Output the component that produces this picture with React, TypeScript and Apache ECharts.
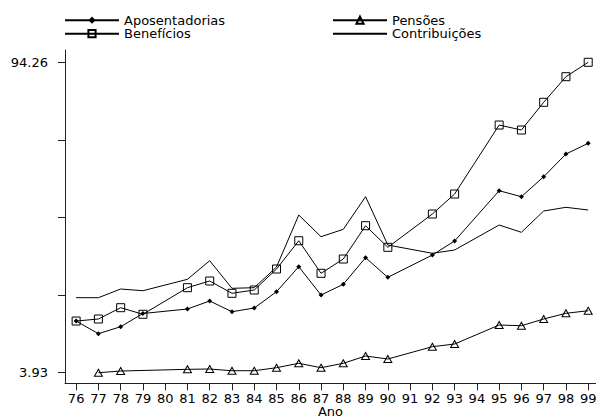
import React, { useEffect, useRef } from "react";
import * as echarts from "echarts";

const years = [76, 77, 78, 79, 80, 81, 82, 83, 84, 85, 86, 87, 88, 89, 90, 91, 92, 93, 94, 95, 96, 97, 98, 99];

const aposentadorias = [18.97, 15.28, 17.32, 21.16, null, 22.47, 24.8, 21.68, 22.76, 27.5, 34.78, 26.54, 29.66, 37.4, 31.69, null, 38.18, 42.26, null, 56.89, 55.15, 60.97, 67.57, 70.69];
const pensoes = [null, 3.93, 4.42, null, null, 4.92, 5.01, 4.51, 4.51, 5.39, 6.67, 5.39, 6.67, 8.79, 7.92, null, 11.5, 12.28, null, 17.81, 17.61, 19.56, 21.22, 21.97];
const beneficios = [18.97, 19.56, 22.85, 20.93, null, 28.67, 30.62, 27.04, 28.0, 34.11, 42.34, 32.86, 37.02, 46.71, 40.42, null, 50.11, 55.93, null, 76.01, 74.56, 82.62, 90.07, 94.26];
const contribuicoes = [25.76, 25.76, 28.29, 27.79, null, 31.11, 36.52, 28.49, 28.67, 34.69, 49.82, 43.51, 45.66, 55.15, 41.09, null, 38.68, 39.64, null, 46.91, 44.79, 50.99, 52.06, 51.28];

const yTickValues = [3.93, 26.5125, 49.095, 71.6775, 94.26];
const yLabelValues = [3.93, 94.26];

const FONT = "DejaVu Sans";

function pairs(vals: (number | null)[]) {
  return years.map((y, i) => [y, vals[i]]);
}

export default function App() {
  const ref = useRef<HTMLDivElement>(null);
  useEffect(() => {
    if (!ref.current) return;
    const chart = echarts.init(ref.current, null, { renderer: "svg" });
    const black = "#000";
    const lineBase = {
      type: "line",
      connectNulls: true,
      lineStyle: { color: black, width: 1 },
      emphasis: { disabled: true },
    };
    const legendBase = {
      orient: "vertical",
      top: 13.7,
      padding: 0,
      itemWidth: 54,
      itemHeight: 9,
      itemGap: 0.5,
      selectedMode: false,
      textStyle: { fontFamily: FONT, fontSize: 13, color: black },
    };
    chart.setOption({
      animation: false,
      backgroundColor: "#fff",
      grid: {
        left: 65,
        right: 0,
        top: 50,
        bottom: 34.7,
        containLabel: false,
        outerBoundsMode: "none",
      },
      legend: [
        { ...legendBase, left: 64, data: ["Aposentadorias", "Benefícios"] },
        {
          ...legendBase,
          left: 332,
          data: ["Pensões", { name: "Contribuições", itemStyle: { opacity: 0 } }],
        },
      ],
      xAxis: {
        type: "value",
        min: 75.5,
        max: 99.35,
        name: "Ano",
        nameLocation: "middle",
        nameGap: 22.5,
        nameMoveOverlap: false,
        nameTextStyle: { fontFamily: FONT, fontSize: 13, lineHeight: 12, color: black },
        splitLine: { show: false },
        axisLine: { lineStyle: { color: "#222", width: 1 } },
        axisTick: { show: true, length: 7, lineStyle: { color: "#222" }, customValues: years },
        axisLabel: {
          customValues: years,
          margin: 9,
          fontFamily: FONT,
          fontSize: 13,
          lineHeight: 13,
          color: black,
          formatter: (v: number) => String(v),
        },
      },
      yAxis: {
        type: "value",
        min: 0.85,
        max: 97.84,
        splitLine: { show: false },
        axisLine: { show: true, lineStyle: { color: "#222", width: 1 } },
        axisTick: { show: true, length: 7, lineStyle: { color: "#222" }, customValues: yTickValues },
        axisLabel: {
          customValues: yLabelValues,
          margin: 17,
          fontFamily: FONT,
          fontSize: 13,
          color: black,
          formatter: (v: number) => v.toFixed(2),
        },
      },
      series: [
        {
          ...lineBase,
          name: "Aposentadorias",
          symbol: "diamond",
          symbolSize: 5,
          itemStyle: { color: black },
          data: pairs(aposentadorias),
        },
        {
          ...lineBase,
          name: "Pensões",
          symbol: "triangle",
          symbolSize: [8, 7],
          itemStyle: { color: "rgba(0,0,0,0)", borderColor: black, borderWidth: 1 },
          data: pairs(pensoes),
        },
        {
          ...lineBase,
          name: "Benefícios",
          symbol: "rect",
          symbolSize: 8,
          itemStyle: { color: "rgba(0,0,0,0)", borderColor: black, borderWidth: 1 },
          data: pairs(beneficios),
        },
        {
          ...lineBase,
          name: "Contribuições",
          symbol: "circle",
          showSymbol: false,
          itemStyle: { color: black },
          data: pairs(contribuicoes),
        },
      ],
    });
    return () => chart.dispose();
  }, []);
  return (
    <div
      ref={ref}
      style={{ position: "fixed", left: 0, top: 0, width: 596, height: 418, background: "#fff" }}
    />
  );
}
